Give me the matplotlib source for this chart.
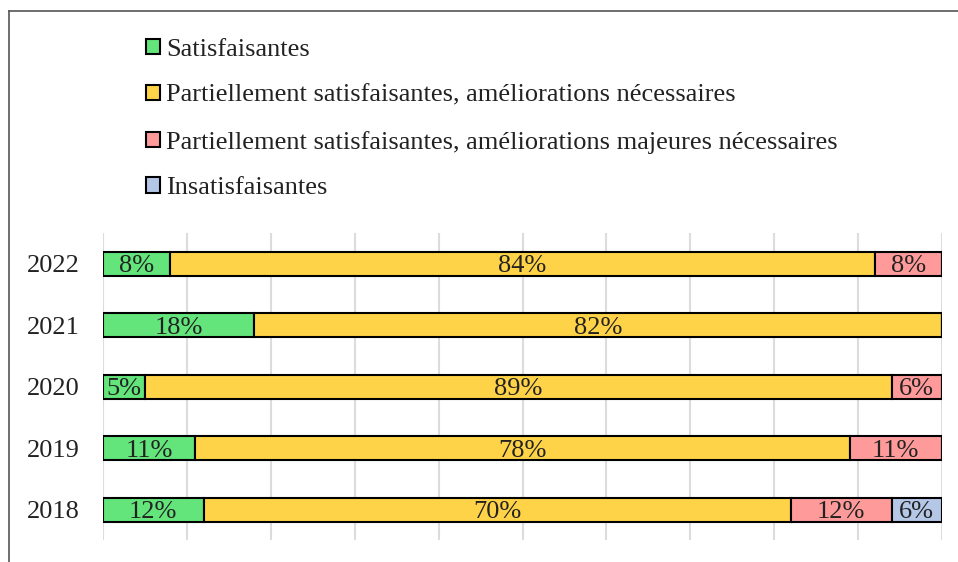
import numpy as np
import matplotlib
matplotlib.use("Agg")
from matplotlib import pyplot as plt
from matplotlib.patches import Patch
from matplotlib.lines import Line2D

plt.rcParams['font.family'] = ['Liberation Serif', 'DejaVu Serif']

years = ["2018", "2019", "2020", "2021", "2022"]
categories = ["Satisfaisantes",
              "Partiellement satisfaisantes, améliorations nécessaires",
              "Partiellement satisfaisantes, améliorations majeures nécessaires",
              "Insatisfaisantes"]
satis = [12, 11, 5, 18, 8]
partiel = [70, 78, 89, 82, 84]
majeures = [12, 11, 6, 0, 8]
insatis = [6, 0, 0, 0, 0]
colors = ["#63E57B", "#FFD347", "#FF9A9A", "#B4C7E7"]

fig = plt.figure(figsize=(9.58, 5.62), dpi=100)
ax = fig.add_axes([103/958, 1-540/562, (942-103)/958, (540-233)/562])

y = np.arange(len(years))
left = np.zeros(len(years))
for vals, col in zip([satis, partiel, majeures, insatis], colors):
    vals = np.array(vals, dtype=float)
    ax.barh(y, vals, left=left, height=0.39, color=col, edgecolor="black",
            linewidth=1.5, zorder=3)
    for yi, l, v in zip(y, left, vals):
        if v > 0:
            ax.text(l + v/2, yi - 0.04, f"{int(v)}%", ha="center", va="center",
                    fontsize=19, color="#222222", zorder=4)
    left += vals

ax.set_xlim(0, 100)
ax.set_ylim(-0.49, 4.5)
ax.set_xticks(np.arange(0, 101, 10))
ax.set_xticklabels([])
ax.set_yticks(y)
ax.set_yticklabels(years, fontsize=19, color="#222222")
ax.tick_params(length=0, pad=17)
ax.grid(axis="x", color="#dcdcdc", linewidth=1.5, zorder=0)
for s in ax.spines.values():
    s.set_visible(False)

handles = [Patch(facecolor=c, edgecolor="black", linewidth=1.5) for c in colors]
fig.legend(handles, categories, loc="upper left",
           bbox_to_anchor=(146/958, 1-39/562), frameon=False, fontsize=19,
           handlelength=0.52, handleheight=0.52, handletextpad=0.25,
           labelspacing=0.9, borderpad=0, borderaxespad=0,
           labelcolor="#222222")

# outer frame (cropped at right and bottom)
fig.add_artist(Line2D([9/958, 9/958], [0, 1-11/562], color="#555555", linewidth=1.2))
fig.add_artist(Line2D([9/958, 1], [1-11/562, 1-11/562], color="#555555", linewidth=1.2))

fig.savefig("out.png", dpi=100)
